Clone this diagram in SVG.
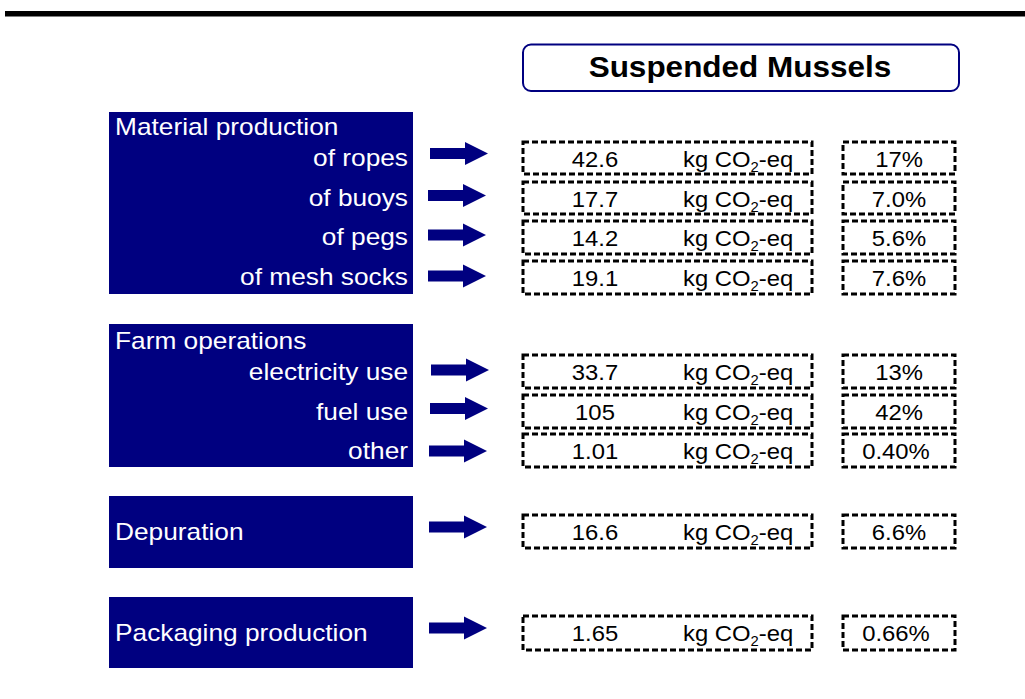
<svg xmlns="http://www.w3.org/2000/svg" width="1025" height="699" viewBox="0 0 1025 699">
<style>
.blk{fill:#000080}
.lbl{font-family:"Liberation Sans",Arial,sans-serif;font-size:24px;fill:#fff}
.val{font-family:"Liberation Sans",Arial,sans-serif;font-size:22.5px;fill:#000}
.ttl{font-family:"Liberation Sans",Arial,sans-serif;font-size:30px;font-weight:bold;fill:#000}
.dash{fill:#fff;stroke:#000;stroke-width:3;stroke-dasharray:6 3}
.arr{fill:#000080}
</style>
<defs>
<path id="arrow" d="M0,-5.5 H35 V-11.5 L58,0 L35,11.5 V5.5 H0 Z"/>
</defs>
<rect x="5" y="11" width="1020" height="5.5" fill="#000"/>
<g id="title">
<rect x="523" y="44.5" width="436" height="46.5" rx="8" fill="#fff" stroke="#000080" stroke-width="2"/>
<text class="ttl" text-anchor="middle" transform="translate(740,77) scale(1.05,1)">Suspended Mussels</text>
</g>
<g id="material">
<rect class="blk" x="109" y="112" width="304" height="182"/>
<text class="lbl" transform="translate(115,135) scale(1.095,1)">Material production</text>
<text class="lbl" text-anchor="end" transform="translate(408,166) scale(1.095,1)">of ropes</text>
<text class="lbl" text-anchor="end" transform="translate(408,205.5) scale(1.095,1)">of buoys</text>
<text class="lbl" text-anchor="end" transform="translate(408,245) scale(1.095,1)">of pegs</text>
<text class="lbl" text-anchor="end" transform="translate(408,284.5) scale(1.095,1)">of mesh socks</text>
</g>
<g id="farm">
<rect class="blk" x="109" y="324" width="304" height="143"/>
<text class="lbl" transform="translate(115,348.5) scale(1.095,1)">Farm operations</text>
<text class="lbl" text-anchor="end" transform="translate(408,380) scale(1.095,1)">electricity use</text>
<text class="lbl" text-anchor="end" transform="translate(408,419.5) scale(1.095,1)">fuel use</text>
<text class="lbl" text-anchor="end" transform="translate(408,458.5) scale(1.095,1)">other</text>
</g>
<g id="depuration">
<rect class="blk" x="109" y="496" width="304" height="72"/>
<text class="lbl" transform="translate(115,540) scale(1.095,1)">Depuration</text>
</g>
<g id="packaging">
<rect class="blk" x="109" y="597" width="304" height="71"/>
<text class="lbl" transform="translate(115,640.5) scale(1.095,1)">Packaging production</text>
</g>
<g id="connectors">
<use href="#arrow" class="arr" transform="translate(430,153.5)"/>
<use href="#arrow" class="arr" transform="translate(428,195.5)"/>
<use href="#arrow" class="arr" transform="translate(428,235)"/>
<use href="#arrow" class="arr" transform="translate(428,276)"/>
<use href="#arrow" class="arr" transform="translate(431,370)"/>
<use href="#arrow" class="arr" transform="translate(430,408.5)"/>
<use href="#arrow" class="arr" transform="translate(429,451)"/>
<use href="#arrow" class="arr" transform="translate(429,527)"/>
<use href="#arrow" class="arr" transform="translate(429,628)"/>
</g>
<g id="values">
<g id="v1"><rect class="dash" x="523" y="142" width="289" height="32"/><rect class="dash" x="843" y="142" width="112" height="32"/>
<text class="val" text-anchor="middle" transform="translate(595,167) scale(1.06,1)">42.6</text>
<text class="val" transform="translate(683,167) scale(1.06,1)">kg CO<tspan font-size="14" dy="5">2</tspan><tspan dy="-5">-eq</tspan></text>
<text class="val" text-anchor="middle" transform="translate(899,167) scale(1.06,1)">17%</text></g>
<g id="v2"><rect class="dash" x="523" y="182" width="289" height="32"/><rect class="dash" x="843" y="182" width="112" height="32"/>
<text class="val" text-anchor="middle" transform="translate(595,206.5) scale(1.06,1)">17.7</text>
<text class="val" transform="translate(683,206.5) scale(1.06,1)">kg CO<tspan font-size="14" dy="5">2</tspan><tspan dy="-5">-eq</tspan></text>
<text class="val" text-anchor="middle" transform="translate(899,206.5) scale(1.06,1)">7.0%</text></g>
<g id="v3"><rect class="dash" x="523" y="221" width="289" height="33"/><rect class="dash" x="843" y="221" width="112" height="33"/>
<text class="val" text-anchor="middle" transform="translate(595,246) scale(1.06,1)">14.2</text>
<text class="val" transform="translate(683,246) scale(1.06,1)">kg CO<tspan font-size="14" dy="5">2</tspan><tspan dy="-5">-eq</tspan></text>
<text class="val" text-anchor="middle" transform="translate(899,246) scale(1.06,1)">5.6%</text></g>
<g id="v4"><rect class="dash" x="523" y="261" width="289" height="33"/><rect class="dash" x="843" y="261" width="112" height="33"/>
<text class="val" text-anchor="middle" transform="translate(595,285.5) scale(1.06,1)">19.1</text>
<text class="val" transform="translate(683,285.5) scale(1.06,1)">kg CO<tspan font-size="14" dy="5">2</tspan><tspan dy="-5">-eq</tspan></text>
<text class="val" text-anchor="middle" transform="translate(899,285.5) scale(1.06,1)">7.6%</text></g>
<g id="v5"><rect class="dash" x="523" y="355" width="289" height="33"/><rect class="dash" x="843" y="355" width="112" height="33"/>
<text class="val" text-anchor="middle" transform="translate(595,380) scale(1.06,1)">33.7</text>
<text class="val" transform="translate(683,380) scale(1.06,1)">kg CO<tspan font-size="14" dy="5">2</tspan><tspan dy="-5">-eq</tspan></text>
<text class="val" text-anchor="middle" transform="translate(899,380) scale(1.06,1)">13%</text></g>
<g id="v6"><rect class="dash" x="523" y="395" width="289" height="33"/><rect class="dash" x="843" y="395" width="112" height="33"/>
<text class="val" text-anchor="middle" transform="translate(595,419.5) scale(1.06,1)">105</text>
<text class="val" transform="translate(683,419.5) scale(1.06,1)">kg CO<tspan font-size="14" dy="5">2</tspan><tspan dy="-5">-eq</tspan></text>
<text class="val" text-anchor="middle" transform="translate(899,419.5) scale(1.06,1)">42%</text></g>
<g id="v7"><rect class="dash" x="523" y="434" width="289" height="33"/><rect class="dash" x="843" y="434" width="112" height="33"/>
<text class="val" text-anchor="middle" transform="translate(595,458.5) scale(1.06,1)">1.01</text>
<text class="val" transform="translate(683,458.5) scale(1.06,1)">kg CO<tspan font-size="14" dy="5">2</tspan><tspan dy="-5">-eq</tspan></text>
<text class="val" text-anchor="middle" transform="translate(896,458.5) scale(1.06,1)">0.40%</text></g>
<g id="v8"><rect class="dash" x="523" y="515" width="289" height="33"/><rect class="dash" x="843" y="515" width="112" height="33"/>
<text class="val" text-anchor="middle" transform="translate(595,539.5) scale(1.06,1)">16.6</text>
<text class="val" transform="translate(683,539.5) scale(1.06,1)">kg CO<tspan font-size="14" dy="5">2</tspan><tspan dy="-5">-eq</tspan></text>
<text class="val" text-anchor="middle" transform="translate(899,539.5) scale(1.06,1)">6.6%</text></g>
<g id="v9"><rect class="dash" x="523" y="616" width="289" height="34"/><rect class="dash" x="843" y="616" width="112" height="34"/>
<text class="val" text-anchor="middle" transform="translate(595,641) scale(1.06,1)">1.65</text>
<text class="val" transform="translate(683,641) scale(1.06,1)">kg CO<tspan font-size="14" dy="5">2</tspan><tspan dy="-5">-eq</tspan></text>
<text class="val" text-anchor="middle" transform="translate(896,641) scale(1.06,1)">0.66%</text></g>
</g>
</svg>
